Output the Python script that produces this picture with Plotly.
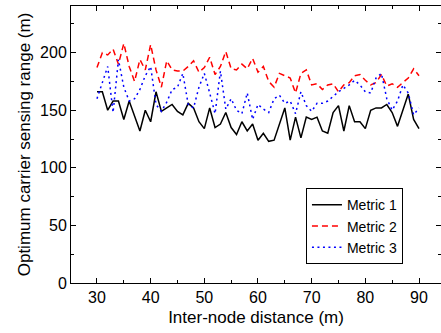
import plotly.graph_objects as go

distance = list(range(30, 91))

metric1 = [166, 166, 150, 158, 158, 142, 158, 145, 132, 150,
           140, 166, 149, 152, 155, 149, 146, 156, 152, 140,
           134, 152, 135, 138, 148, 135, 129, 140, 132, 138,
           124, 130, 123, 124, 138, 152, 124, 144, 126, 144,
           142, 144, 132, 130, 148, 154, 132, 154, 140, 140,
           134, 150, 152, 152, 155, 148, 136, 150, 164, 142,
           134]

metric2 = [187, 200, 198, 203, 190, 208, 188, 175, 194, 185,
           207, 185, 170, 193, 185, 184, 184, 188, 193, 183,
           187, 196, 181, 188, 201, 186, 185, 190, 186, 195,
           183, 188, 175, 170, 182, 180, 178, 165, 182, 185,
           172, 173, 168, 172, 173, 166, 172, 174, 180, 181,
           176, 172, 174, 181, 171, 173, 170, 174, 178, 186,
           180]

metric3 = [160, 174, 188, 148, 194, 170, 158, 160, 168, 180,
           188, 155, 149, 157, 168, 170, 182, 155, 152, 170,
           182, 165, 147, 184, 151, 160, 150, 147, 165, 142,
           155, 151, 148, 160, 163, 156, 158, 147, 166, 154,
           149, 156, 156, 158, 162, 166, 169, 172, 176, 172,
           166, 165, 178, 182, 160, 150, 158, 172, 165, 146,
           152]

series_names = ["Metric 1", "Metric 2", "Metric 3"]
series_colors = ["black", "#ff0000", "#0000ff"]
series_dash = ["solid", "6px,4px", "2px,3.5px"]

fig = go.Figure()
for name, vals, col, dash in zip(series_names, [metric1, metric2, metric3],
                                 series_colors, series_dash):
    fig.add_trace(go.Scatter(x=distance, y=vals, mode="lines", name=name,
                             line=dict(color=col, width=1.5, dash=dash)))

font_family = "Arial, Liberation Sans, sans-serif"
fig.update_layout(
    width=441, height=333,
    margin=dict(l=71, r=0, t=6, b=50),
    plot_bgcolor="white", paper_bgcolor="white",
    font=dict(family=font_family, size=16, color="black"),
    showlegend=True,
    legend=dict(x=0.635, y=0.342, xanchor="left", yanchor="top",
                bordercolor="black", borderwidth=1, bgcolor="white",
                font=dict(size=14), tracegroupgap=0, itemwidth=30),
)
fig.update_xaxes(
    range=[25.16, 94.1], tick0=0, dtick=10,
    ticks="inside", ticklen=5, tickwidth=1, tickcolor="black",
    tickfont=dict(size=16),
    minor=dict(ticks="inside", ticklen=3, dtick=5, tick0=0, tickcolor="black"),
    showline=True, linecolor="black", linewidth=1, mirror="ticks",
    showgrid=False, zeroline=False,
    title=dict(text="Inter-node distance (m)", font=dict(size=17), standoff=5),
)
fig.update_yaxes(
    range=[0, 240.5], tick0=0, dtick=50,
    ticks="inside", ticklen=5, tickwidth=1, tickcolor="black",
    tickfont=dict(size=16),
    minor=dict(ticks="inside", ticklen=3, dtick=25, tick0=0, tickcolor="black"),
    showline=True, linecolor="black", linewidth=1, mirror="ticks",
    showgrid=False, zeroline=False,
    title=dict(text="Optimum carrier sensing range (m)", font=dict(size=17), standoff=5),
)

fig.write_html("out.html")
